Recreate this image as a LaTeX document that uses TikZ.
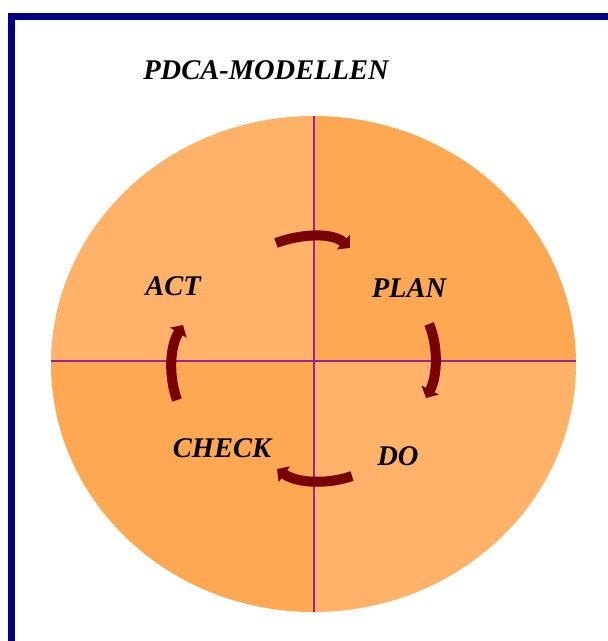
\documentclass[tikz,border=0pt]{standalone}
\usepackage{fontspec}
\setmainfont{Liberation Serif}
\usetikzlibrary{arrows.meta}
\definecolor{navyb}{RGB}{0,0,128}
\definecolor{lightq}{RGB}{255,178,104}
\definecolor{darkq}{RGB}{255,168,84}
\definecolor{divline}{RGB}{150,40,140}
\definecolor{maroonarr}{RGB}{120,0,0}
\tikzset{
  lbl/.style={font=\fontsize{28.5}{30}\selectfont\bfseries\itshape, text=black, inner sep=0pt},
  cyc/.style={draw=maroonarr, line width=10pt, -{Triangle[width=19pt,length=9pt]}},
  divider/.style={draw=divline, line width=2pt},
  frameline/.style={draw=navyb, line width=7pt}
}
\begin{document}
\begin{tikzpicture}[x=1pt,y=-1pt]
\useasboundingbox (0,0) rectangle (608,641);
\fill[white] (0,0) rectangle (608,641);
% frame
\coordinate (fc) at (11.5,16.5);
\coordinate (fb) at (11.5,645);
\coordinate (fr) at (612,16.5);
\draw[frameline] (fb) -- (fc) -- (fr);
% disc
\coordinate (c) at (313.5,361);
\begin{scope}
  \clip (313.5,364) ellipse [x radius=262.5, y radius=248];
  \fill[lightq] (c) rectangle (40,100);
  \fill[darkq] (c) rectangle (590,100);
  \fill[darkq] (c) rectangle (40,630);
  \fill[lightq] (c) rectangle (590,630);
  \draw[divider] (313.5,100) -- (313.5,630);
  \draw[divider] (40,361) -- (590,361);
\end{scope}
% title and labels
\node[lbl] (title) at (266,70) {PDCA-MODELLEN};
\node[lbl] (act) at (173,286) {ACT};
\node[lbl] (plan) at (409,288) {PLAN};
\node[lbl] (check) at (222,448) {CHECK};
\node[lbl] (do) at (398,456) {DO};
% cycle arrows
\coordinate (t1) at (276,243);
\coordinate (t2) at (350,248);
\coordinate (r1) at (429,324);
\coordinate (r2) at (426,398);
\coordinate (b1) at (352,476);
\coordinate (b2) at (277,469);
\coordinate (l1) at (177,400);
\coordinate (l2) at (183,325);
\draw[cyc] (t1) .. controls (300,234) and (332,232) .. (t2);
\draw[cyc] (r1) .. controls (438,345) and (438,375) .. (r2);
\draw[cyc] (b1) .. controls (330,484) and (298,484) .. (b2);
\draw[cyc] (l1) .. controls (169,378) and (169,348) .. (l2);
\end{tikzpicture}
\end{document}
